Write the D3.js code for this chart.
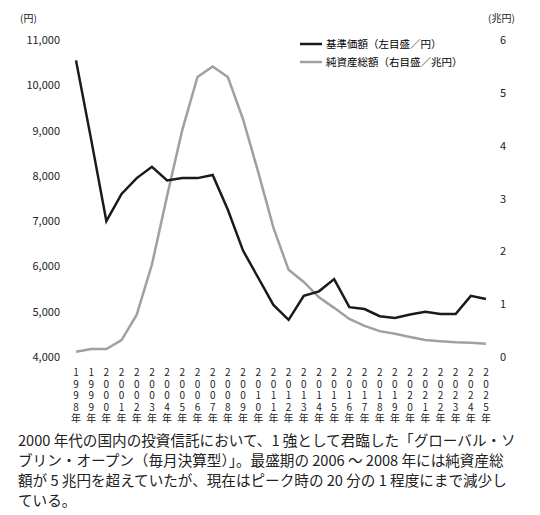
<!DOCTYPE html>
<html><head><meta charset="utf-8">
<script src="https://cdn.jsdelivr.net/npm/d3@7"></script>
<style>
body{margin:0;background:#fff;font-family:"Noto Sans CJK JP","Noto Sans",sans-serif;}
#cap{position:absolute;left:18px;top:430px;width:500px;font-size:14.6px;line-height:20px;color:#222;}
</style></head><body>
<div id="container"></div>
<div id="cap">2000 年代の国内の投資信託において、1 強として君臨した「グローバル・ソブリン・オープン（毎月決算型）」。最盛期の 2006 ～ 2008 年には純資産総額が 5 兆円を超えていたが、現在はピーク時の 20 分の 1 程度にまで減少している。</div>
<script>
var years = d3.range(1998, 2026);
var basePrice = [10550,8800,7000,7600,7950,8200,7900,7950,7950,8020,7250,6350,5750,5150,4820,5350,5450,5720,5100,5060,4900,4860,4940,5000,4950,4950,5350,5280];
var netAssets = [0.1,0.15,0.15,0.32,0.8,1.75,3.05,4.3,5.3,5.5,5.3,4.5,3.5,2.45,1.65,1.42,1.13,0.93,0.72,0.59,0.49,0.44,0.38,0.32,0.3,0.28,0.27,0.25];
var leftTicks = [4000,5000,6000,7000,8000,9000,10000,11000];
var rightTicks = [0,1,2,3,4,5,6];

var svg = d3.select('#container').append('svg').attr('width',540).attr('height',430);
var x = d3.scalePoint().domain(years).range([76,486]);
var yl = d3.scaleLinear().domain([4000,11000]).range([357,40]);
var yr = d3.scaleLinear().domain([0,6]).range([357,40]);

var g = svg.append('g').attr('font-size',11).attr('fill','#222');
g.selectAll('.lt').data(leftTicks).enter().append('text')
  .attr('x',60).attr('y',function(d){return yl(d)+4;}).attr('text-anchor','end')
  .text(function(d){return d3.format(',')(d);});
g.selectAll('.rt').data(rightTicks).enter().append('text')
  .attr('x',500).attr('y',function(d){return yr(d)+4;})
  .text(function(d){return d;});
g.append('text').attr('x',20).attr('y',22).attr('font-size',10).text('(円)');
g.append('text').attr('x',488).attr('y',22).attr('font-size',10).text('(兆円)');

years.forEach(function(yv){
  var s = String(yv).split('').concat(['年']);
  g.append('text').attr('x',x(yv)).attr('y',376).attr('text-anchor','middle').attr('font-size',10)
    .selectAll('tspan').data(s).enter().append('tspan')
    .attr('x',x(yv)).attr('dy',function(d,i){return i?11.5:0;}).text(function(d){return d;});
});

svg.append('path').datum(netAssets).attr('fill','none').attr('stroke','#a0a0a0').attr('stroke-width',2.5)
  .attr('d',d3.line().x(function(d,i){return x(years[i]);}).y(function(d){return yr(d);}));
svg.append('path').datum(basePrice).attr('fill','none').attr('stroke','#1a1a1a').attr('stroke-width',2.5)
  .attr('d',d3.line().x(function(d,i){return x(years[i]);}).y(function(d){return yl(d);}));

var lg = svg.append('g').attr('font-size',10.5);
lg.append('line').attr('x1',300).attr('x2',322).attr('y1',44).attr('y2',44).attr('stroke','#1a1a1a').attr('stroke-width',2.5);
lg.append('text').attr('x',326).attr('y',48).text('基準価額（左目盛／円）');
lg.append('line').attr('x1',300).attr('x2',322).attr('y1',62).attr('y2',62).attr('stroke','#a0a0a0').attr('stroke-width',2.5);
lg.append('text').attr('x',326).attr('y',66).text('純資産総額（右目盛／兆円）');
</script></body></html>
